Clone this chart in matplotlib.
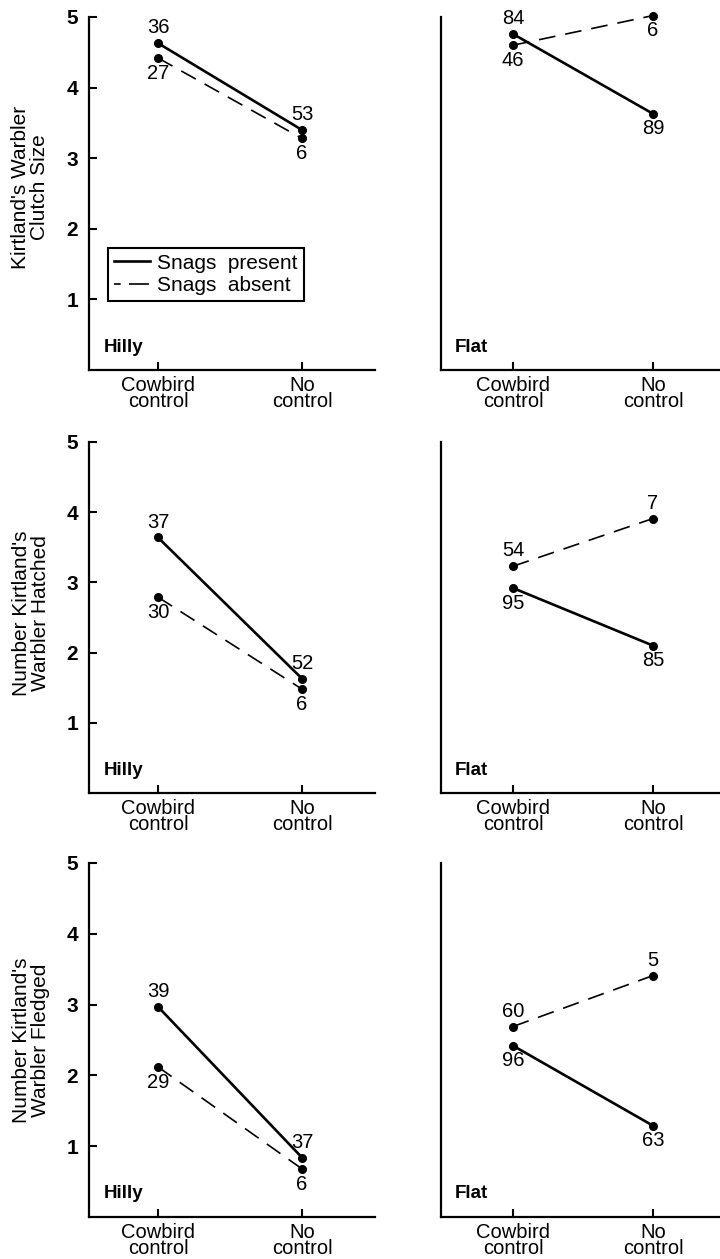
import matplotlib
matplotlib.use("Agg")
import matplotlib.pyplot as plt
from matplotlib.lines import Line2D

plt.rcParams["font.family"] = ["Liberation Sans", "DejaVu Sans"]

# Treatment categories on the x axis
x_labels = ["Cowbird\ncontrol", "No\ncontrol"]
terrains = ["Hilly", "Flat"]
row_ylabels = [
    "Kirtland's Warbler\nClutch Size",
    "Number Kirtland's\nWarbler Hatched",
    "Number Kirtland's\nWarbler Fledged",
]

# Mean values (cowbird control, no control)
clutch_hilly_present = [4.63, 3.40]
clutch_hilly_absent = [4.42, 3.28]
clutch_flat_present = [4.76, 3.63]
clutch_flat_absent = [4.60, 5.02]

hatched_hilly_present = [3.64, 1.63]
hatched_hilly_absent = [2.79, 1.48]
hatched_flat_present = [2.92, 2.10]
hatched_flat_absent = [3.23, 3.91]

fledged_hilly_present = [2.97, 0.84]
fledged_hilly_absent = [2.12, 0.68]
fledged_flat_present = [2.42, 1.29]
fledged_flat_absent = [2.69, 3.41]

# Sample sizes (number of nests)
clutch_hilly_present_n = [36, 53]
clutch_hilly_absent_n = [27, 6]
clutch_flat_present_n = [84, 89]
clutch_flat_absent_n = [46, 6]

hatched_hilly_present_n = [37, 52]
hatched_hilly_absent_n = [30, 6]
hatched_flat_present_n = [95, 85]
hatched_flat_absent_n = [54, 7]

fledged_hilly_present_n = [39, 37]
fledged_hilly_absent_n = [29, 6]
fledged_flat_present_n = [96, 63]
fledged_flat_absent_n = [60, 5]

rows = [
    [(clutch_hilly_present, clutch_hilly_absent, clutch_hilly_present_n, clutch_hilly_absent_n),
     (clutch_flat_present, clutch_flat_absent, clutch_flat_present_n, clutch_flat_absent_n)],
    [(hatched_hilly_present, hatched_hilly_absent, hatched_hilly_present_n, hatched_hilly_absent_n),
     (hatched_flat_present, hatched_flat_absent, hatched_flat_present_n, hatched_flat_absent_n)],
    [(fledged_hilly_present, fledged_hilly_absent, fledged_hilly_present_n, fledged_hilly_absent_n),
     (fledged_flat_present, fledged_flat_absent, fledged_flat_present_n, fledged_flat_absent_n)],
]

W, H = 720, 1259
fig = plt.figure(figsize=(W / 100, H / 100), dpi=100)

# pixel geometry of each row: (y of value 0, y of value 5)
row_px = [(370, 17), (793, 442), (1217, 863)]
col_px = [(89, 375), (441, 720)]
col_xlim = [(-0.479, 1.507), (-0.514, 1.479)]
ylabel_px = [(30, 187), (31, 613), (31, 1040)]

DASH = (10, 6)
xs = [0, 1]

for r, row in enumerate(rows):
    y0, y5 = row_px[r]
    for c, (pres, absn, pres_n, abs_n) in enumerate(row):
        xl, xr = col_px[c]
        ax = fig.add_axes([xl / W, 1 - y0 / H, (xr - xl) / W, (y0 - y5) / H])
        ax.set_xlim(*col_xlim[c])
        ax.set_ylim(0, 5)
        for s in ("top", "right"):
            ax.spines[s].set_visible(False)
        for s in ("left", "bottom"):
            ax.spines[s].set_linewidth(1.6)
        ax.set_xticks(xs)
        ax.set_xticklabels(x_labels, fontsize=14.5, linespacing=0.85)
        ax.tick_params(axis="x", direction="in", length=6, width=1.5, pad=4)
        if c == 0:
            ax.set_yticks([1, 2, 3, 4, 5])
            ax.set_yticklabels(["1", "2", "3", "4", "5"], fontsize=15, fontweight="bold")
            ax.tick_params(axis="y", direction="in", length=6, width=1.5, pad=8)
        else:
            ax.set_yticks([])

        ax.plot(xs, pres, color="black", lw=1.9, marker="o", ms=5.5,
                solid_capstyle="butt", clip_on=False)
        ax.plot(xs, absn, color="black", lw=1.2, marker="o", ms=5.5,
                dashes=DASH, clip_on=False)

        for i in range(2):
            for val, n, other in ((pres[i], pres_n[i], absn[i]), (absn[i], abs_n[i], pres[i])):
                above = val >= other and val < 4.9
                ax.annotate(str(n), (xs[i], val), xytext=(0, 11 if above else -11),
                            textcoords="offset points", ha="center", va="center",
                            fontsize=14.5, annotation_clip=False)

        ax.text(0.05, 0.065, terrains[c], transform=ax.transAxes, fontsize=13.5,
                fontweight="bold", ha="left", va="center")

        if r == 0 and c == 0:
            handles = [Line2D([], [], color="black", lw=1.9),
                       Line2D([], [], color="black", lw=1.2, dashes=(4, 5, 12, 5))]
            leg = ax.legend(handles, ["Snags  present", "Snags  absent"],
                            loc="lower left", bbox_to_anchor=(0.066, 0.195),
                            borderaxespad=0, fancybox=False, framealpha=1,
                            edgecolor="black", fontsize=15, handlelength=1.7,
                            handletextpad=0.35, borderpad=0.3, labelspacing=0.15)
            leg.get_frame().set_linewidth(1.5)

    fx, fy = ylabel_px[r]
    fig.text(fx / W, 1 - fy / H, row_ylabels[r], rotation=90, ha="center",
             va="center", multialignment="center", fontsize=15, linespacing=1.05)

fig.savefig("out.png", dpi=100)
